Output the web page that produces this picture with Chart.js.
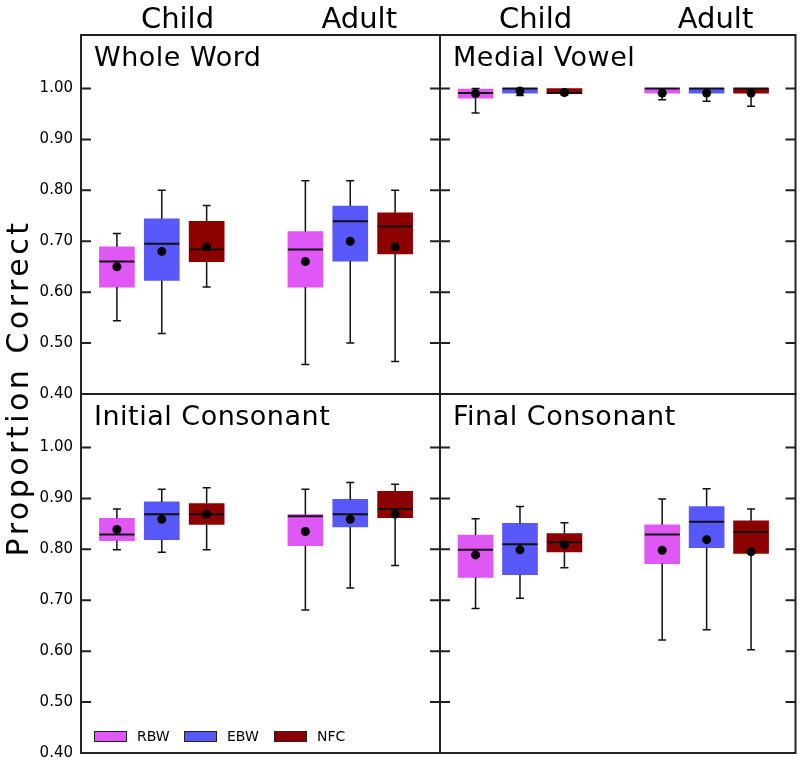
<!DOCTYPE html>
<html>
<head>
<meta charset="utf-8">
<script src="https://cdn.jsdelivr.net/npm/chart.js@4.4.0/dist/chart.umd.min.js"></script>
<style>
  body { margin: 0; background: #fff; overflow: hidden; }
  #wrap { position: relative; width: 800px; height: 761px; }
  #wrap canvas { position: absolute; left: 0; top: 0; }
</style>
</head>
<body>
<div id="wrap">
  <canvas id="c0" width="800" height="761"></canvas>
  <canvas id="c1" width="800" height="761"></canvas>
  <canvas id="c2" width="800" height="761"></canvas>
  <canvas id="c3" width="800" height="761"></canvas>
</div>
<script>
// categories and series
var groups = ["Child", "Adult"];
var series = ["RBW", "EBW", "NFC"];
var yTicks = [0.40, 0.50, 0.60, 0.70, 0.80, 0.90, 1.00];
var panelTitles = ["Whole Word", "Medial Vowel", "Initial Consonant", "Final Consonant"];

// box stats per group (Child, Adult): [low whisker, q1, median, q3, high whisker, mean]
var wholeWordRBW = [[0.544, 0.610, 0.660, 0.689, 0.715, 0.650], [0.458, 0.610, 0.684, 0.719, 0.819, 0.660]];
var wholeWordEBW = [[0.519, 0.623, 0.695, 0.744, 0.800, 0.680], [0.500, 0.661, 0.739, 0.769, 0.819, 0.700]];
var wholeWordNFC = [[0.610, 0.660, 0.684, 0.739, 0.770, 0.689], [0.464, 0.675, 0.729, 0.756, 0.800, 0.689]];

var medialVowelRBW = [[0.952, 0.981, 0.991, 0.999, 1.000, 0.990], [0.978, 0.991, 1.000, 1.000, 1.000, 0.991]];
var medialVowelEBW = [[0.986, 0.991, 1.000, 1.000, 1.000, 0.995], [0.975, 0.991, 1.000, 1.000, 1.000, 0.991]];
var medialVowelNFC = [[0.987, 0.990, 0.991, 1.000, 1.000, 0.992], [0.965, 0.991, 1.000, 1.000, 1.000, 0.991]];

var initialConsRBW = [[0.799, 0.817, 0.829, 0.861, 0.879, 0.839], [0.681, 0.807, 0.865, 0.868, 0.918, 0.835]];
var initialConsEBW = [[0.794, 0.819, 0.869, 0.893, 0.918, 0.859], [0.724, 0.844, 0.869, 0.898, 0.931, 0.859]];
var initialConsNFC = [[0.799, 0.849, 0.869, 0.890, 0.921, 0.869], [0.768, 0.862, 0.879, 0.914, 0.928, 0.869]];

var finalConsRBW = [[0.684, 0.745, 0.799, 0.828, 0.860, 0.789], [0.622, 0.772, 0.829, 0.848, 0.899, 0.798]];
var finalConsEBW = [[0.704, 0.750, 0.810, 0.851, 0.884, 0.799], [0.642, 0.803, 0.854, 0.884, 0.919, 0.819]];
var finalConsNFC = [[0.764, 0.795, 0.814, 0.831, 0.852, 0.809], [0.603, 0.792, 0.834, 0.856, 0.879, 0.795]];

// layout
var colors = ["#df57f5", "#5858f8", "#8c0000"];
var boxX = [[0.8, 1.8, 2.8], [5, 6, 7]]; // x positions on the 0..8 panel scale
var groupLabelX = [2.15, 6.2];
var W = 800, H = 761;
var areas = [
  { left: 81, top: 35, right: 440, bottom: 394 },
  { left: 440, top: 35, right: 799, bottom: 394 },
  { left: 81, top: 394, right: 440, bottom: 753 },
  { left: 440, top: 394, right: 799, bottom: 753 }
];
var panelStats = [
  [wholeWordRBW, wholeWordEBW, wholeWordNFC],
  [medialVowelRBW, medialVowelEBW, medialVowelNFC],
  [initialConsRBW, initialConsEBW, initialConsNFC],
  [finalConsRBW, finalConsEBW, finalConsNFC]
];

// whiskers and medians drawn right after each box dataset
var boxExtras = {
  id: "boxExtras",
  afterDatasetDraw: function (chart, args) {
    var ds = chart.data.datasets[args.index];
    if (!ds.stats) return;
    var ctx = chart.ctx, xs = chart.scales.x, ys = chart.scales.y;
    ctx.save();
    ctx.strokeStyle = "#111";
    ds.stats.forEach(function (s, i) {
      var x = xs.getPixelForValue(ds.data[i].x);
      var half = args.meta.data[i].width / 2;
      var lo = ys.getPixelForValue(s[0]), q1 = ys.getPixelForValue(s[1]);
      var med = ys.getPixelForValue(s[2]), q3 = ys.getPixelForValue(s[3]);
      var hi = ys.getPixelForValue(s[4]);
      ctx.lineWidth = 1.5;
      ctx.beginPath();
      if (s[4] > s[3]) {
        ctx.moveTo(x, q3); ctx.lineTo(x, hi);
        ctx.moveTo(x - 4, hi); ctx.lineTo(x + 4, hi);
      }
      if (s[0] < s[1]) {
        ctx.moveTo(x, q1); ctx.lineTo(x, lo);
        ctx.moveTo(x - 4, lo); ctx.lineTo(x + 4, lo);
      }
      ctx.stroke();
      ctx.lineWidth = 2;
      ctx.beginPath();
      ctx.moveTo(x - half, med); ctx.lineTo(x + half, med);
      ctx.stroke();
    });
    ctx.restore();
  }
};

// frame, inward ticks, panel title, legend, outer labels
var panelDeco = {
  id: "panelDeco",
  afterDraw: function (chart, args, opts) {
    var ctx = chart.ctx, a = chart.chartArea, ys = chart.scales.y, xs = chart.scales.x;
    ctx.save();
    ctx.strokeStyle = "#222";
    ctx.lineWidth = 2;
    ctx.strokeRect(a.left, a.top, a.right - a.left, a.bottom - a.top);
    ctx.beginPath();
    yTicks.forEach(function (v) {
      if (v <= ys.min) return;
      var y = ys.getPixelForValue(v);
      ctx.moveTo(a.left, y); ctx.lineTo(a.left + 10, y);
      ctx.moveTo(a.right, y); ctx.lineTo(a.right - 10, y);
    });
    ctx.stroke();

    ctx.fillStyle = "#000";
    ctx.textBaseline = "alphabetic";
    ctx.textAlign = "left";
    ctx.font = "27px 'DejaVu Sans'";
    ctx.letterSpacing = "0.5px";
    ctx.fillText(opts.title, a.left + 13, a.top + 31);
    ctx.letterSpacing = "0px";

    if (opts.legend) {
      ctx.font = "14px 'DejaVu Sans'";
      ctx.textBaseline = "middle";
      ctx.lineWidth = 1;
      chart.data.datasets.forEach(function (ds, i) {
        if (!ds.stats) return;
        var lx = a.left + 13 + i * 90, ly = a.bottom - 22;
        ctx.fillStyle = ds.backgroundColor;
        ctx.fillRect(lx, ly, 33, 11);
        ctx.strokeStyle = "#222";
        ctx.strokeRect(lx + 0.5, ly + 0.5, 32, 10);
        ctx.fillStyle = "#000";
        ctx.fillText(ds.label, lx + 43, ly + 6);
      });
    }

    if (opts.groupLabels) {
      ctx.font = "29px 'DejaVu Sans'";
      ctx.textAlign = "center";
      ctx.textBaseline = "alphabetic";
      groups.forEach(function (g, i) {
        ctx.fillText(g, xs.getPixelForValue(groupLabelX[i]), 28);
      });
    }

    if (opts.yTitle) {
      ctx.font = "30px 'DejaVu Sans'";
      ctx.textAlign = "center";
      ctx.textBaseline = "middle";
      ctx.letterSpacing = "3.5px";
      ctx.translate(20, 388);
      ctx.rotate(-Math.PI / 2);
      ctx.fillText(opts.yTitle, 0, 0);
    }
    ctx.restore();
  }
};

function makePanel(k) {
  var area = areas[k];
  var showY = (k % 2 === 0);
  var datasets = series.map(function (name, si) {
    var stats = panelStats[k][si];
    return {
      type: "bar",
      label: name,
      data: stats.map(function (s, gi) { return { x: boxX[gi][si], y: [s[1], s[3]] }; }),
      stats: stats,
      backgroundColor: colors[si],
      borderWidth: 0,
      barThickness: 35,
      grouped: false,
      order: 1
    };
  });
  var means = [];
  groups.forEach(function (g, gi) {
    series.forEach(function (name, si) { means.push({ x: boxX[gi][si], y: panelStats[k][si][gi][5] }); });
  });
  datasets.push({
    type: "scatter",
    label: "Mean",
    data: means,
    backgroundColor: "#000",
    borderWidth: 0,
    pointRadius: 4.5,
    clip: false,
    order: -1
  });

  new Chart(document.getElementById("c" + k), {
    type: "bar",
    data: { datasets: datasets },
    options: {
      responsive: false,
      animation: false,
      events: [],
      layout: {
        padding: { left: 0, top: area.top, right: W - area.right, bottom: H - area.bottom }
      },
      plugins: {
        legend: { display: false },
        tooltip: { enabled: false },
        panelDeco: {
          title: panelTitles[k],
          legend: k === 2,
          groupLabels: k < 2,
          yTitle: k === 0 ? "Proportion Correct" : null
        }
      },
      scales: {
        x: { type: "linear", min: 0, max: 8, offset: false, display: false },
        y: {
          type: "linear",
          min: 0.40,
          max: 1.105,
          afterBuildTicks: function (s) { s.ticks = yTicks.map(function (v) { return { value: v }; }); },
          afterFit: function (s) {
            s.width = area.left;
            s.paddingTop = 0;
            s.paddingBottom = 0;
          },
          grid: { display: false, drawTicks: false },
          border: { display: false },
          ticks: {
            display: showY,
            padding: 8,
            color: "#000",
            font: { family: "'DejaVu Sans'", size: 15, lineHeight: 1 },
            callback: function (v) { return Number(v).toFixed(2); }
          }
        }
      }
    },
    plugins: [boxExtras, panelDeco]
  });
}

[0, 1, 2, 3].forEach(makePanel);
</script>
</body>
</html>
